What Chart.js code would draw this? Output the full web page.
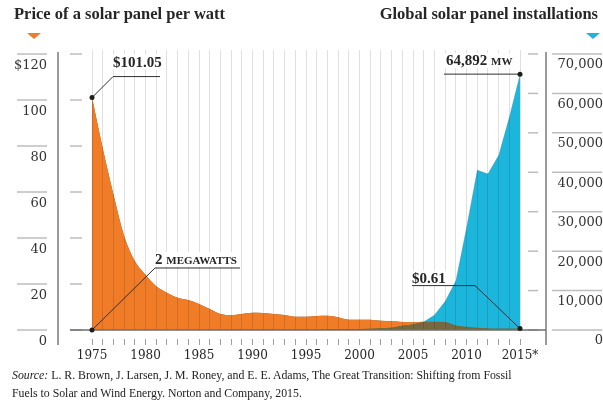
<!DOCTYPE html>
<html>
<head>
<meta charset="utf-8">
<script src="https://cdn.jsdelivr.net/npm/chart.js@4"></script>
<style>
  html, body { margin: 0; padding: 0; background: #fff; }
  #wrap { position: relative; width: 603px; height: 403px; overflow: hidden; }
  #wrap canvas { position: absolute; left: 0; top: 0; }
  .head { position: absolute; top: 4px; font: bold 16.5px "Liberation Serif", serif; color: #262626; white-space: nowrap; }
  .tri { position: absolute; top: 33px; width: 0; height: 0; border-left: 7px solid transparent; border-right: 7px solid transparent; border-top: 6px solid; }
  #source { position: absolute; left: 12px; top: 366px; font: 11.8px/18px "Liberation Serif", serif; color: #222; white-space: nowrap; }
</style>
</head>
<body>
<div id="wrap">
  <canvas id="canvas" width="603" height="403"></canvas>
  <div class="head" style="left:14px">Price of a solar panel per watt</div>
  <div class="head" style="right:5px">Global solar panel installations</div>
  <div class="tri" style="left:27px; border-top-color:#f07c27"></div>
  <div class="tri" style="left:586px; border-top-color:#1cb5dc"></div>
  <div id="source"><i>Source:</i> L. R. Brown, J. Larsen, J. M. Roney, and E. E. Adams, The Great Transition: Shifting from Fossil<br>Fuels to Solar and Wind Energy. Norton and Company, 2015.</div>
</div>
<script>
// years on the x axis
var years = [1975, 1976, 1977, 1978, 1979, 1980, 1981, 1982, 1983, 1984,
  1985, 1986, 1987, 1988, 1989, 1990, 1991, 1992, 1993, 1994,
  1995, 1996, 1997, 1998, 1999, 2000, 2001, 2002, 2003, 2004,
  2005, 2006, 2007, 2008, 2009, 2010, 2011, 2012, 2013, 2014, 2015];

// price of a solar panel, $ per watt (left axis)
var price = [101.05, 79, 59, 41, 30, 24, 19, 16.2, 14, 13,
  11.3, 9.1, 7, 6.5, 7, 7.5, 7.4, 7, 6.5, 5.8,
  5.8, 6.1, 6.2, 5.5, 4.5, 4.5, 4.5, 4.0, 3.8, 3.5,
  3.4, 3.6, 3.6, 3.5, 2.0, 1.4, 1.0, 0.8, 0.7, 0.65, 0.61];

// global installations, MW (right axis)
var installs = [2, 2, 3, 4, 5, 7, 9, 12, 17, 20,
  22, 26, 30, 34, 40, 46, 55, 58, 60, 70,
  78, 89, 126, 153, 201, 278, 334, 439, 594, 1088,
  1389, 2100, 3800, 7300, 12500, 26000, 40600, 39600, 44300, 54000, 64892];

var priceTicks = [0, 20, 40, 60, 80, 100, 120];
var installTicks = [0, 10000, 20000, 30000, 40000, 50000, 60000, 70000];

var ORANGE = "#f07c27";
var CYAN = "#1cb5dc";
var OLIVE = "#76683f";
var INK = "#262626";

function pts(arr) {
  return years.map(function (yr, i) {
    return { x: yr, y: arr[i] };
  });
}

function seg(ctx, x1, y1, x2, y2) {
  ctx.beginPath();
  ctx.moveTo(x1, y1);
  ctx.lineTo(x2, y2);
  ctx.stroke();
}

function dot(ctx, x, y) {
  ctx.beginPath();
  ctx.arc(x, y, 2.5, 0, Math.PI * 2);
  ctx.fill();
}

// text with a white box behind it, parts = [[text, font], ...]
function tag(ctx, x, baseY, parts) {
  var w = 0;
  parts.forEach(function (p) {
    ctx.font = p[1];
    w += ctx.measureText(p[0]).width;
  });
  ctx.fillStyle = "#fff";
  ctx.fillRect(x - 2, baseY - 12, w + 4, 15);
  ctx.fillStyle = INK;
  ctx.textBaseline = "alphabetic";
  ctx.textAlign = "left";
  var cx = x;
  parts.forEach(function (p) {
    ctx.font = p[1];
    ctx.fillText(p[0], cx, baseY);
    cx += ctx.measureText(p[0]).width;
  });
}

// axis lines, tick rules and the four callouts
var furniture = {
  id: "furniture",
  afterDraw: function (chart) {
    var ctx = chart.ctx;
    var area = chart.chartArea;
    var x = chart.scales.x, y = chart.scales.y, y1 = chart.scales.y1;
    ctx.save();

    ctx.strokeStyle = "#bdbdbd";
    ctx.lineWidth = 1.5;
    priceTicks.forEach(function (v) {
      var py = y.getPixelForValue(v);
      seg(ctx, area.left - 41, py, area.left - 11, py);
      seg(ctx, area.left + 12, py, area.left + 24, py);
    });
    installTicks.forEach(function (v) {
      var py = y1.getPixelForValue(v);
      seg(ctx, area.right + 6, py, area.right + 56, py);
      seg(ctx, area.right - 18, py, area.right - 8, py);
    });

    ctx.strokeStyle = "#7a7a7a";
    ctx.lineWidth = 1.5;
    seg(ctx, area.left, area.top + 2, area.left, area.bottom + 15);
    seg(ctx, area.right, area.top + 2, area.right, area.bottom + 15);
    ctx.strokeStyle = "#6e6e6e";
    seg(ctx, area.left + 12, y.getPixelForValue(0), area.right, y.getPixelForValue(0));

    var bold = 'bold 15px "Liberation Serif", serif';
    var small = 'bold 11px "Liberation Serif", serif';
    var last = years.length - 1;

    // $101.05
    var ax = x.getPixelForValue(years[0]), ay = y.getPixelForValue(price[0]);
    tag(ctx, ax + 21, ay - 31, [["$101.05", bold]]);
    // 2 megawatts
    var bx = x.getPixelForValue(years[0]), by = y1.getPixelForValue(installs[0]);
    tag(ctx, bx + 63, by - 66, [["2 ", bold], ["MEGAWATTS", small]]);
    // 64,892 MW
    var cx = x.getPixelForValue(years[last]), cy = y1.getPixelForValue(installs[last]);
    tag(ctx, cx - 74, cy - 9, [["64,892 ", bold], ["MW", small]]);
    // $0.61
    var dx = x.getPixelForValue(years[last]), dy = y.getPixelForValue(price[last]);
    tag(ctx, dx - 108, dy - 46, [["$0.61", bold]]);

    ctx.strokeStyle = "#2e2e2e";
    ctx.fillStyle = "#1e1e1e";
    ctx.lineWidth = 1;
    ctx.beginPath();
    ctx.moveTo(ax, ay); ctx.lineTo(ax + 21, ay - 21); ctx.lineTo(ax + 68, ay - 21);
    ctx.stroke();
    dot(ctx, ax, ay);
    ctx.beginPath();
    ctx.moveTo(bx, by); ctx.lineTo(bx + 63, by - 62); ctx.lineTo(bx + 148, by - 62);
    ctx.stroke();
    dot(ctx, bx, by);
    ctx.beginPath();
    ctx.moveTo(cx, cy); ctx.lineTo(cx - 76, cy);
    ctx.stroke();
    dot(ctx, cx, cy);
    ctx.beginPath();
    ctx.moveTo(dx, dy); ctx.lineTo(dx - 45, dy - 43); ctx.lineTo(dx - 108, dy - 43);
    ctx.stroke();
    dot(ctx, dx, dy);

    ctx.restore();
  }
};

var ctx = document.getElementById("canvas").getContext("2d");

var myChart = new Chart(ctx, {
  type: "line",
  data: {
    datasets: [
      {
        label: "Installations",
        data: pts(installs),
        yAxisID: "y1",
        backgroundColor: CYAN,
        borderColor: "rgba(0,0,0,0)",
        borderWidth: 0,
        fill: "origin",
        pointRadius: 0,
        tension: 0,
        order: 3,
      },
      {
        // overlap of the two areas
        label: "Price",
        data: pts(price),
        yAxisID: "y",
        backgroundColor: OLIVE,
        borderColor: "rgba(0,0,0,0)",
        borderWidth: 0,
        fill: "origin",
        pointRadius: 0,
        cubicInterpolationMode: "monotone",
        order: 2,
      },
      {
        label: "Price",
        data: pts(price),
        yAxisID: "y",
        backgroundColor: ORANGE,
        borderColor: "rgba(0,0,0,0)",
        borderWidth: 0,
        fill: { target: 0, above: ORANGE, below: "rgba(0,0,0,0)" },
        pointRadius: 0,
        cubicInterpolationMode: "monotone",
        order: 1,
      },
    ],
  },
  options: {
    responsive: false,
    animation: false,
    layout: { padding: { top: 50, left: 0, right: 0, bottom: 0 } },
    plugins: {
      legend: { display: false },
      tooltip: { enabled: false },
    },
    scales: {
      x: {
        type: "linear",
        min: 1971.82,
        max: 2017.43,
        afterBuildTicks: function (scale) {
          scale.ticks = years.map(function (v) { return { value: v }; });
        },
        afterFit: function (scale) { scale.height = 73; },
        grid: {
          color: "rgba(0,0,0,0.12)",
          lineWidth: 1,
          z: 1,
          tickLength: 15,
          tickColor: "#a0a0a0",
          tickBorderDash: [0, 9, 6, 30],
        },
        border: { display: false },
        ticks: {
          autoSkip: false,
          maxRotation: 0,
          padding: 4,
          color: INK,
          font: { family: "DejaVu Serif", size: 12 },
          callback: function (v) {
            if (v % 5 !== 0) return "";
            return v === 2015 ? "2015*" : String(v);
          },
        },
      },
      y: {
        position: "left",
        min: 0,
        max: 121.74,
        afterBuildTicks: function (scale) {
          scale.ticks = priceTicks.map(function (v) { return { value: v }; });
        },
        afterFit: function (scale) { scale.width = 58; },
        grid: { drawOnChartArea: false, drawTicks: false },
        border: { display: false },
        ticks: {
          padding: 11,
          labelOffset: 12,
          color: "#333",
          font: { family: "DejaVu Serif", size: 13 },
          callback: function (v) { return v === 120 ? "$120" : String(v); },
        },
      },
      y1: {
        position: "right",
        min: 0,
        max: 71014,
        afterBuildTicks: function (scale) {
          scale.ticks = installTicks.map(function (v) { return { value: v }; });
        },
        afterFit: function (scale) { scale.width = 57; },
        grid: { drawOnChartArea: false, drawTicks: false },
        border: { display: false },
        ticks: {
          padding: 6,
          labelOffset: 11,
          crossAlign: "far",
          color: "#333",
          font: { family: "DejaVu Serif", size: 13 },
          callback: function (v) { return v.toLocaleString("en-US"); },
        },
      },
    },
  },
  plugins: [furniture],
});
</script>
</body>
</html>
